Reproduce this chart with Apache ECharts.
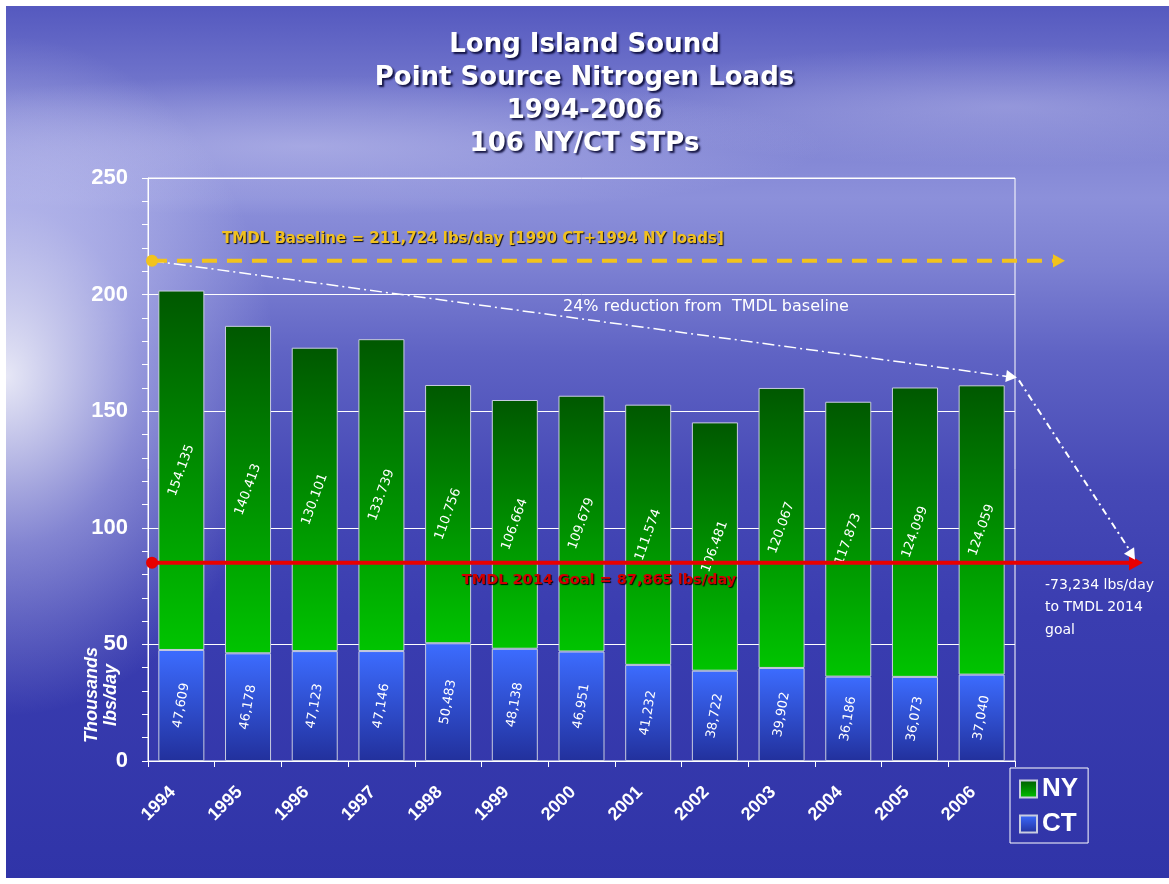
<!DOCTYPE html>
<html>
<head>
<meta charset="utf-8">
<script src="https://cdn.jsdelivr.net/npm/echarts@6/dist/echarts.min.js"></script>
<style>
html,body{margin:0;padding:0;background:#ffffff;}
#wrap{position:absolute;left:6px;top:6px;width:1163px;height:872px;
background:
 radial-gradient(ellipse 270px 340px at 0px 370px, rgba(255,255,255,0.85), rgba(230,230,255,0.4) 50%, rgba(255,255,255,0) 100%),
 radial-gradient(ellipse 520px 70px at 300px 140px, rgba(210,210,245,0.45), rgba(210,210,245,0) 100%),
 radial-gradient(ellipse 420px 60px at 1000px 100px, rgba(200,200,240,0.35), rgba(200,200,240,0) 100%),
 linear-gradient(to bottom, #5559bf 0%, #7a7ed0 12%, #8c90da 22%, #7c80d2 30%, #5f63c4 40%, #4649b6 55%, #3a3db0 70%, #3034a8 100%);}
#chart{position:absolute;left:-6px;top:-6px;width:1169px;height:884px;}
</style>
</head>
<body>
<div id="wrap"><div id="chart"></div></div>
<script>
// ---- data (thousands lbs/day) ----
const years = ['1994','1995','1996','1997','1998','1999','2000','2001','2002','2003','2004','2005','2006'];
const nyLoads = [154.135,140.413,130.101,133.739,110.756,106.664,109.679,111.574,106.481,120.067,117.873,124.099,124.059];
const ctLoads = [47.609,46.178,47.123,47.146,50.483,48.138,46.951,41.232,38.722,39.902,36.186,36.073,37.040];
const yTicks = [0,50,100,150,200,250];
const baselineDrawn = 214.5;   // where the baseline arrow is drawn
const goalDrawn = 85;          // where the goal line is drawn
const reductionEnd = 164.5;    // end of the 24% reduction arrow

const chart = echarts.init(document.getElementById('chart'), null, {renderer:'canvas'});
const shadow = {textShadowColor:'rgba(0,0,40,0.85)', textShadowBlur:2, textShadowOffsetX:2, textShadowOffsetY:2};

const nyGrad = new echarts.graphic.LinearGradient(0,0,0,1,[{offset:0,color:'#005800'},{offset:1,color:'#00c400'}]);
const ctGrad = new echarts.graphic.LinearGradient(0,0,0,1,[{offset:0,color:'#3c6cff'},{offset:1,color:'#22309c'}]);

const option = {
  animation:false,
  backgroundColor:'transparent',
  title:{
    text:'Long Island Sound\nPoint Source Nitrogen Loads\n1994-2006\n106 NY/CT STPs',
    left:'center', top:24, itemGap:0,
    textStyle:Object.assign({color:'#ffffff', fontFamily:'DejaVu Sans', fontWeight:'bold', fontSize:26, lineHeight:33}, shadow)
  },
  legend:{
    data:['NY','CT'], orient:'vertical', left:1010, top:768,
    icon:'rect', itemWidth:17, itemHeight:17, itemGap:9,
    padding:[8,10,6,9], borderColor:'#ffffff', borderWidth:1,
    textStyle:{color:'#ffffff', fontFamily:'Liberation Sans', fontWeight:'bold', fontSize:26}
  },
  grid:{left:148, right:154, top:178, bottom:123, show:true, borderColor:'#ffffff', borderWidth:1, backgroundColor:'transparent', outerBoundsMode:'none'},
  xAxis:{
    type:'category', data:years,
    axisLine:{lineStyle:{color:'#ffffff', width:1}},
    axisTick:{show:true, length:6, lineStyle:{color:'#ffffff'}},
    axisLabel:{rotate:45, margin:20, padding:[0,12,0,0], color:'#ffffff', fontFamily:'Liberation Sans', fontWeight:'bold', fontSize:18, interval:0}
  },
  yAxis:{
    type:'value', min:yTicks[0], max:yTicks[yTicks.length-1], interval:50,
    axisLine:{show:true, lineStyle:{color:'#ffffff'}},
    axisTick:{show:true, length:6, lineStyle:{color:'#ffffff'}},
    minorTick:{show:true, splitNumber:5, length:6, lineStyle:{color:'#ffffff'}},
    splitLine:{show:true, lineStyle:{color:'#ffffff', width:1}},
    axisLabel:{margin:20, color:'#ffffff', fontFamily:'Liberation Sans', fontWeight:'bold', fontSize:22}
  },
  series:[
    {name:'CT', type:'bar', stack:'load', data:ctLoads, barWidth:'69%',
     itemStyle:{color:ctGrad, borderColor:'#c8cce0', borderWidth:1},
     label:{show:true, position:'inside', rotate:80, color:'#ffffff', fontFamily:'DejaVu Sans', fontSize:13,
            formatter:p=>p.value.toFixed(3).replace('.',',')}},
    {name:'NY', type:'bar', stack:'load', data:nyLoads, barWidth:'69%',
     itemStyle:{color:nyGrad, borderColor:'#c8cce0', borderWidth:1},
     label:{show:true, position:'inside', rotate:70, color:'#ffffff', fontFamily:'DejaVu Sans', fontSize:13,
            formatter:p=>p.value.toFixed(3)}}
  ]
};
chart.setOption(option);

const yB = chart.convertToPixel({yAxisIndex:0}, baselineDrawn);
const yG = chart.convertToPixel({yAxisIndex:0}, goalDrawn);
const yR = chart.convertToPixel({yAxisIndex:0}, reductionEnd);
const y0 = chart.convertToPixel({yAxisIndex:0}, 0);
const xL = 152, xR = 1015;

function arrowHead(x, y, angle, size, color){
  const a = angle, s = size;
  const p1 = [x, y];
  const p2 = [x - s*Math.cos(a) + s*0.55*Math.sin(a), y - s*Math.sin(a) - s*0.55*Math.cos(a)];
  const p3 = [x - s*Math.cos(a) - s*0.55*Math.sin(a), y - s*Math.sin(a) + s*0.55*Math.cos(a)];
  return {type:'polygon', shape:{points:[p1,p2,p3]}, style:{fill:color}, z:20};
}
const aDiag1 = Math.atan2(yR - yB, xR - xL);
const xEnd2 = 1135, yEnd2 = yG - 3;
const aDiag2 = Math.atan2(yEnd2 - yR, xEnd2 - (xR+2));
const darkShadow = {textShadowColor:'rgba(0,0,0,0.9)', textShadowOffsetX:1, textShadowOffsetY:1, textShadowBlur:1};

chart.setOption({graphic:[
  // baseline
  {type:'line', shape:{x1:xL, y1:yB, x2:1054, y2:yB}, style:{stroke:'#f2c31c', lineWidth:4, lineDash:[15,10]}, z:15},
  arrowHead(1065, yB, 0, 12, '#f2c31c'),
  {type:'circle', shape:{cx:xL, cy:yB, r:6}, style:{fill:'#f2c31c'}, z:16},
  {type:'text', x:222, y:yB-22, style:Object.assign({text:'TMDL Baseline = 211,724 lbs/day [1990 CT+1994 NY loads]', fill:'#f0c020', font:'bold 15px "DejaVu Sans"', verticalAlign:'middle'}, darkShadow), z:15},
  // goal line
  {type:'line', shape:{x1:xL, y1:yG, x2:1130, y2:yG}, style:{stroke:'#e80000', lineWidth:4}, z:15},
  arrowHead(1143, yG, 0, 14, '#e80000'),
  {type:'circle', shape:{cx:xL, cy:yG, r:6}, style:{fill:'#e80000'}, z:16},
  {type:'text', x:599, y:yG+17, style:Object.assign({text:'TMDL 2014 Goal = 87,865 lbs/day', fill:'#d00000', font:'bold 14.5px "DejaVu Sans"', align:'center', verticalAlign:'middle'}, darkShadow), z:15},
  // reduction arrows
  {type:'line', shape:{x1:xL, y1:yB, x2:xR-8, y2:yR-1}, style:{stroke:'#ffffff', lineWidth:1.5, lineDash:[12,4,2,4]}, z:14},
  arrowHead(xR+2, yR, aDiag1, 11, '#ffffff'),
  {type:'line', shape:{x1:xR+4, y1:yR+3, x2:xEnd2-5, y2:yEnd2-9}, style:{stroke:'#ffffff', lineWidth:2, lineDash:[7,4,2,4]}, z:14},
  arrowHead(xEnd2, yEnd2, aDiag2, 11, '#ffffff'),
  {type:'text', x:563, y:yB+46, style:{text:'24% reduction from  TMDL baseline', fill:'#ffffff', font:'16px "DejaVu Sans"', verticalAlign:'middle'}, z:15},
  {type:'text', x:1045, y:yG+12, style:{text:'-73,234 lbs/day\nto TMDL 2014', fill:'#ffffff', font:'14px "DejaVu Sans"', lineHeight:22, verticalAlign:'top'}, z:15},
  {type:'text', x:1045, y:yG+61, style:{text:'goal', fill:'#ffffff', font:'14px "DejaVu Sans"', verticalAlign:'top'}, z:15},
  // y axis name
  {type:'text', x:102, y:y0-66, rotation:Math.PI/2, style:{text:'Thousands\nlbs/day', fill:'#ffffff', font:'italic bold 18px "Liberation Sans"', align:'center', verticalAlign:'middle', lineHeight:19}, z:15}
]});
</script>
</body>
</html>
